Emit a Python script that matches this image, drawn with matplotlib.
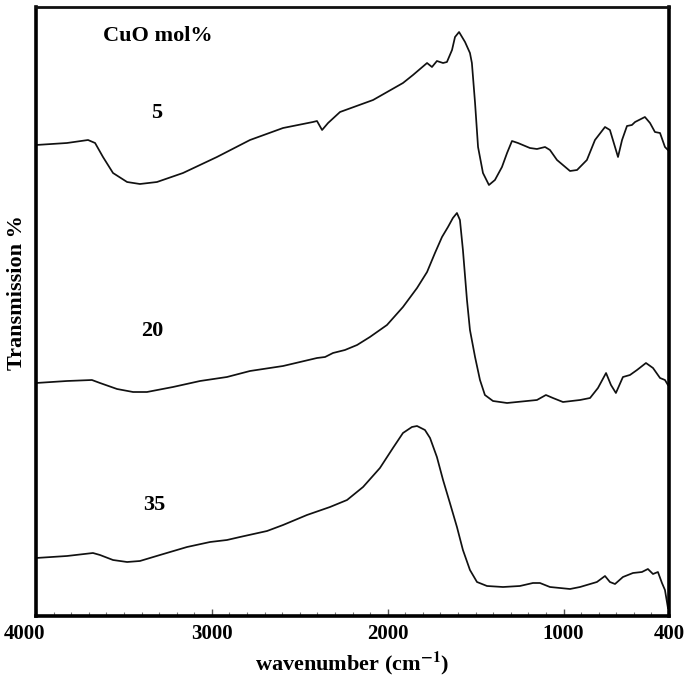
import matplotlib
matplotlib.use("Agg")
import matplotlib.pyplot as plt
import matplotlib.transforms as mtransforms
import numpy as np

# ---- data (wavenumber cm^-1, transmission in arbitrary offset units) ----
wn5 = [4000, 3824, 3704, 3664, 3619, 3562, 3482, 3409, 3312, 3164, 2971, 2783, 2595,
       2425, 2402, 2373, 2339, 2271, 2083, 1913, 1856, 1776, 1748, 1720, 1685, 1663,
       1634, 1617, 1594, 1560, 1532, 1521, 1503, 1486, 1458, 1424, 1390, 1350, 1321,
       1293, 1259, 1191, 1151, 1105, 1077, 1037, 963, 923, 867, 821, 764, 736, 707,
       690, 667, 639, 611, 593, 537, 508, 480, 451, 423, 406]
t5 = [471, 473, 476, 473, 459, 443, 434, 432, 434, 443, 459, 476, 488,
      494, 495, 486, 493, 504, 516, 533, 541, 553, 549, 555, 553, 554,
      566, 579, 584, 574, 563, 553, 513, 469, 443, 431, 436, 449, 463,
      475, 473, 468, 467, 469, 466, 456, 445, 446, 456, 476, 489, 486, 469,
      459, 476, 490, 491, 494, 499, 493, 484, 483, 469, 466]

wn20 = [4000, 3824, 3682, 3636, 3539, 3448, 3369, 3221, 3067, 2914, 2783, 2595, 2402,
        2356, 2311, 2243, 2174, 2101, 2004, 1913, 1833, 1776, 1731, 1691, 1657, 1629,
        1606, 1589, 1572, 1549, 1532, 1503, 1475, 1447, 1401, 1321, 1208, 1151, 1100,
        1060, 1003, 906, 849, 804, 758, 730, 702, 662, 622, 582, 531, 491, 451, 423, 406]
t20 = [233, 235, 236, 233, 227, 224, 224, 229, 235, 239, 245, 250, 258,
       259, 263, 266, 271, 279, 291, 309, 328, 344, 363, 379, 389, 398,
       403, 396, 366, 316, 286, 259, 236, 221, 215, 213, 215, 216, 221,
       218, 214, 216, 218, 228, 243, 231, 223, 239, 241, 246, 253, 248, 238, 236, 231]

wn35 = [4000, 3824, 3676, 3636, 3562, 3482, 3409, 3295, 3141, 3010, 2914, 2840, 2686,
        2595, 2459, 2328, 2231, 2140, 2044, 1970, 1913, 1862, 1833, 1788, 1759, 1720,
        1685, 1646, 1606, 1572, 1532, 1492, 1435, 1344, 1248, 1174, 1134, 1077, 963,
        906, 810, 764, 736, 707, 662, 605, 554, 520, 491, 463, 440, 423, 406]
t35 = [58, 60, 63, 61, 56, 54, 55, 61, 69, 74, 76, 79, 85,
       91, 101, 109, 116, 129, 148, 168, 183, 189, 190, 186, 178, 159,
       136, 113, 89, 66, 46, 34, 30, 29, 30, 33, 33, 29, 27,
       29, 34, 40, 34, 32, 39, 43, 44, 47, 42, 44, 33, 26, 8]

series_labels = ["5", "20", "35"]
xtick_vals = [4000, 3000, 2000, 1000, 400]
xtick_labels = ["4000", "3000", "2000", "1000", "400"]

# ---- figure ----
plt.rcParams["font.family"] = ["Liberation Serif", "DejaVu Serif"]
plt.rcParams["mathtext.fontset"] = "stix"

W, H = 691, 680
fig = plt.figure(figsize=(W / 100, H / 100), dpi=100)
ax = fig.add_axes([36 / W, 1 - 616 / H, (669 - 36) / W, (616 - 7) / H])

lc = "#111111"
for wn, t in [(wn5, t5), (wn20, t20), (wn35, t35)]:
    ax.plot(wn, t, color=lc, lw=1.25, solid_joinstyle="round")

ax.set_xlim(4000, 400)
ax.set_ylim(0, 609)

# spines
for side in ["left", "bottom", "right"]:
    ax.spines[side].set_linewidth(2.6)
    ax.spines[side].set_color("black")
ax.spines["top"].set_linewidth(2.0)
ax.spines["top"].set_color("#111111")

ax.set_yticks([])
ax.set_xticks(xtick_vals)
ax.set_xticklabels(xtick_labels, fontsize=15, fontweight="bold")
ax.set_xticks(np.arange(400, 4001, 100), minor=True)
ax.tick_params(axis="x", which="major", direction="in", length=5, width=1.0,
               color="#555555", pad=6)
ax.tick_params(axis="x", which="minor", direction="in", length=3, width=0.8,
               color="#777777")

# shift the first tick label left like in the original
first = ax.get_xticklabels()[0]
first.set_transform(first.get_transform() +
                    mtransforms.ScaledTranslation(-11 / 100, 0, fig.dpi_scale_trans))

ax.set_xlabel(r"wavenumber (cm$^{\mathbf{-1}}$)", fontsize=16, fontweight="bold",
              labelpad=4)
fig.text(17.5 / W, 1 - 293 / H, "Transmission %", rotation=90, ha="center",
         va="center", fontsize=16, fontweight="bold")

# annotations
ax.text(3309, 580, "CuO mol%", ha="center", va="center", fontsize=16,
        fontweight="bold")
for lab, (x, y) in zip(series_labels, [(3312, 503), (3340, 285), (3329, 111)]):
    ax.text(x, y, lab, ha="center", va="center", fontsize=16, fontweight="bold")

fig.savefig("out.png", dpi=100)
